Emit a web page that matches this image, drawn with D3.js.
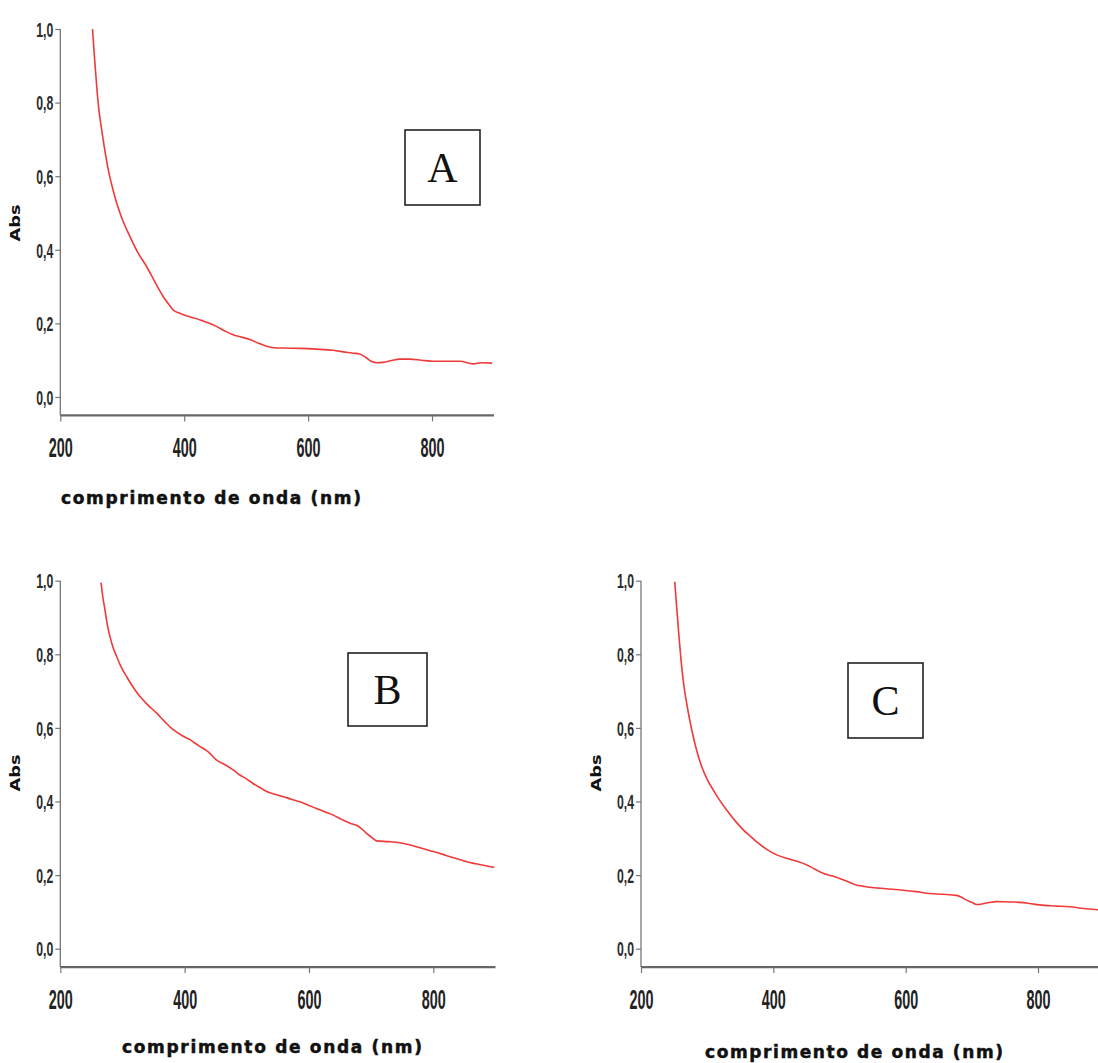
<!DOCTYPE html>
<html>
<head>
<meta charset="utf-8">
<script src="https://cdn.jsdelivr.net/npm/d3@7"></script>
<style>
  html, body { margin: 0; padding: 0; background: #fff; }
  svg { display: block; }
</style>
</head>
<body>
<svg id="chart" width="1098" height="1063"></svg>
<script>
// ---- Data ----
const xTicks = [200, 400, 600, 800];
const yTicks = [0.0, 0.2, 0.4, 0.6, 0.8, 1.0];
const xTitle = "comprimento de onda (nm)";
const yTitle = "Abs";

const seriesA_x = [252, 255, 258.8, 262, 266.8, 271, 277.5, 284, 291, 300, 312.5, 325, 339.5, 352, 366, 375, 382.4, 392, 401, 409, 425, 438, 452, 465, 479, 492, 506, 520, 533, 546, 560, 586, 613, 640, 660, 673, 683, 693, 702, 711, 721, 735, 748, 764, 783, 802, 824, 845, 866, 880, 897];
const seriesA_y = [1.0, 0.927, 0.843, 0.785, 0.726, 0.68, 0.617, 0.57, 0.527, 0.483, 0.436, 0.393, 0.354, 0.315, 0.273, 0.252, 0.236, 0.228, 0.222, 0.218, 0.21, 0.202, 0.192, 0.18, 0.169, 0.163, 0.156, 0.146, 0.138, 0.134, 0.133, 0.132, 0.13, 0.127, 0.122, 0.119, 0.117, 0.108, 0.097, 0.093, 0.094, 0.099, 0.103, 0.103, 0.1, 0.097, 0.097, 0.097, 0.09, 0.093, 0.092];

const seriesB_x = [265.5, 268.5, 271.9, 275.5, 279.9, 285, 290.7, 298, 306.8, 317, 328.2, 341, 355, 368, 381.8, 395, 408.6, 423, 438, 451, 465, 478, 484, 489, 500, 510, 521, 532, 545, 559, 572, 585.5, 599, 612, 625, 639, 652, 666, 680, 693, 701, 709, 728, 746, 760, 773, 787, 800, 814, 827, 841, 854, 868, 881, 898];
const seriesB_y = [0.995, 0.955, 0.92, 0.882, 0.848, 0.818, 0.794, 0.765, 0.739, 0.711, 0.685, 0.662, 0.64, 0.617, 0.595, 0.58, 0.568, 0.551, 0.535, 0.513, 0.5, 0.486, 0.478, 0.472, 0.461, 0.449, 0.438, 0.427, 0.42, 0.413, 0.406, 0.399, 0.39, 0.381, 0.372, 0.363, 0.352, 0.341, 0.332, 0.313, 0.302, 0.293, 0.291, 0.288, 0.283, 0.277, 0.27, 0.264, 0.257, 0.25, 0.243, 0.236, 0.231, 0.227, 0.221];

const seriesC_x = [251, 256, 261.5, 265, 269, 274, 279, 285, 291.7, 300, 309.3, 319, 329.5, 342, 354.6, 365, 374.9, 390, 405, 425, 438, 450, 463, 475, 488, 500, 513, 525, 535, 545, 570, 596, 616, 636, 656, 677, 685, 692, 700, 707, 722, 737, 755, 772, 787, 802, 825, 848, 865, 882, 900];
const seriesC_y = [0.997, 0.88, 0.766, 0.712, 0.667, 0.618, 0.576, 0.533, 0.495, 0.46, 0.431, 0.403, 0.377, 0.348, 0.323, 0.306, 0.29, 0.27, 0.255, 0.243, 0.236, 0.228, 0.216, 0.205, 0.198, 0.191, 0.182, 0.173, 0.17, 0.167, 0.163, 0.159, 0.155, 0.15, 0.148, 0.145, 0.139, 0.132, 0.126, 0.12, 0.124, 0.128, 0.127, 0.126, 0.123, 0.119, 0.116, 0.114, 0.11, 0.107, 0.105];

const panelLabels = ["A", "B", "C"];

// ---- Layout ----
const panels = [
  { xs: seriesA_x, ys: seriesA_y, label: panelLabels[0],
    xr: [60.3, 60.3 + 700 * 0.6195], yTop: 29, yZero: 397,
    box: [405, 130, 75, 75], title: [61, 498, 300], absY: 223 },
  { xs: seriesB_x, ys: seriesB_y, label: panelLabels[1],
    xr: [60.3, 60.3 + 700 * 0.6217], yTop: 580.7, yZero: 948.7,
    box: [348, 653, 79, 73], title: [122, 1047, 300], absY: 773 },
  { xs: seriesC_x, ys: seriesC_y, label: panelLabels[2],
    xr: [641, 641 + 700 * 0.6617], yTop: 580.7, yZero: 948.7,
    box: [848, 663, 75, 75], title: [705, 1052, 298], absY: 773 }
];

const svg = d3.select("#chart");
const fmt = d => d3.format(".1f")(d).replace(".", ",");

panels.forEach(p => {
  const x = d3.scaleLinear().domain([200, 900]).range(p.xr);
  const yPer = (p.yZero - p.yTop);
  const y = d3.scaleLinear().domain([-0.05, 1.0]).range([p.yZero + 0.05 * yPer, p.yTop]);
  const g = svg.append("g");

  // y axis
  const yAxis = d3.axisLeft(y).tickValues(yTicks).tickSize(5).tickSizeOuter(0).tickFormat(fmt);
  const ya = g.append("g").attr("transform", `translate(${x(200)},0)`).call(yAxis);
  ya.select(".domain").attr("stroke", "#777").attr("stroke-width", 1.3)
    .attr("d", `M0,${y(1.0)}V${y(-0.05)}`);
  ya.selectAll(".tick line").attr("stroke", "#777").attr("stroke-width", 1.2);
  ya.selectAll(".tick text")
    .attr("x", -7)
    .attr("dy", "0.36em")
    .attr("font-family", "'Liberation Sans Narrow', 'Arial Narrow', 'Liberation Sans', sans-serif")
    .attr("font-size", 20)
    .attr("font-weight", "bold")
    .attr("fill", "#2a2a2a")
    .attr("textLength", 17)
    .attr("lengthAdjust", "spacingAndGlyphs");

  // x axis
  const xAxis = d3.axisBottom(x).tickValues(xTicks).tickSize(6).tickSizeOuter(0).tickFormat(d3.format("d"));
  const xa = g.append("g").attr("transform", `translate(0,${y(-0.05)})`).call(xAxis);
  xa.select(".domain").attr("stroke", "#666").attr("stroke-width", 2.2)
    .attr("d", `M${x(200)},0H${x(900)}`);
  xa.selectAll(".tick line").attr("stroke", "#777").attr("stroke-width", 1.2);
  xa.selectAll(".tick text")
    .attr("y", 22)
    .attr("dy", "0.71em")
    .attr("font-family", "'Liberation Sans Narrow', 'Arial Narrow', 'Liberation Sans', sans-serif")
    .attr("font-size", 28)
    .attr("font-weight", "bold")
    .attr("fill", "#222")
    .attr("textLength", 24)
    .attr("lengthAdjust", "spacingAndGlyphs");

  // curve
  const pts = p.xs.map((v, i) => [v, p.ys[i]]);
  const line = d3.line().x(d => x(d[0])).y(d => y(d[1])).curve(d3.curveMonotoneX);
  g.append("path").datum(pts)
    .attr("d", line)
    .attr("fill", "none")
    .attr("stroke", "#f03a3a")
    .attr("stroke-width", 1.6);

  // y title
  g.append("text")
    .attr("transform", `translate(${x(200) - 40},${p.absY}) rotate(-90)`)
    .attr("text-anchor", "middle")
    .attr("font-family", "'DejaVu Sans', sans-serif")
    .attr("font-weight", "bold")
    .attr("font-size", 14)
    .attr("fill", "#111")
    .attr("textLength", 37)
    .attr("lengthAdjust", "spacingAndGlyphs")
    .text(yTitle);

  // x title
  g.append("text")
    .attr("x", p.title[0]).attr("y", p.title[1])
    .attr("dy", "0.35em")
    .attr("font-family", "'DejaVu Sans', sans-serif")
    .attr("font-weight", "bold")
    .attr("font-size", 17)
    .attr("fill", "#111")
    .attr("stroke", "#111")
    .attr("stroke-width", 0.5)
    .attr("textLength", p.title[2])
    .attr("lengthAdjust", "spacing")
    .text(xTitle);

  // label box
  const [bx, by, bw, bh] = p.box;
  g.append("rect").attr("x", bx).attr("y", by).attr("width", bw).attr("height", bh)
    .attr("fill", "#fff").attr("stroke", "#222").attr("stroke-width", 1.6);
  g.append("text")
    .attr("x", bx + bw / 2).attr("y", by + bh / 2)
    .attr("dy", "0.35em")
    .attr("text-anchor", "middle")
    .attr("font-family", "'Liberation Serif', 'Times New Roman', serif")
    .attr("font-size", 42)
    .attr("fill", "#111")
    .text(p.label);
});
</script>
</body>
</html>
